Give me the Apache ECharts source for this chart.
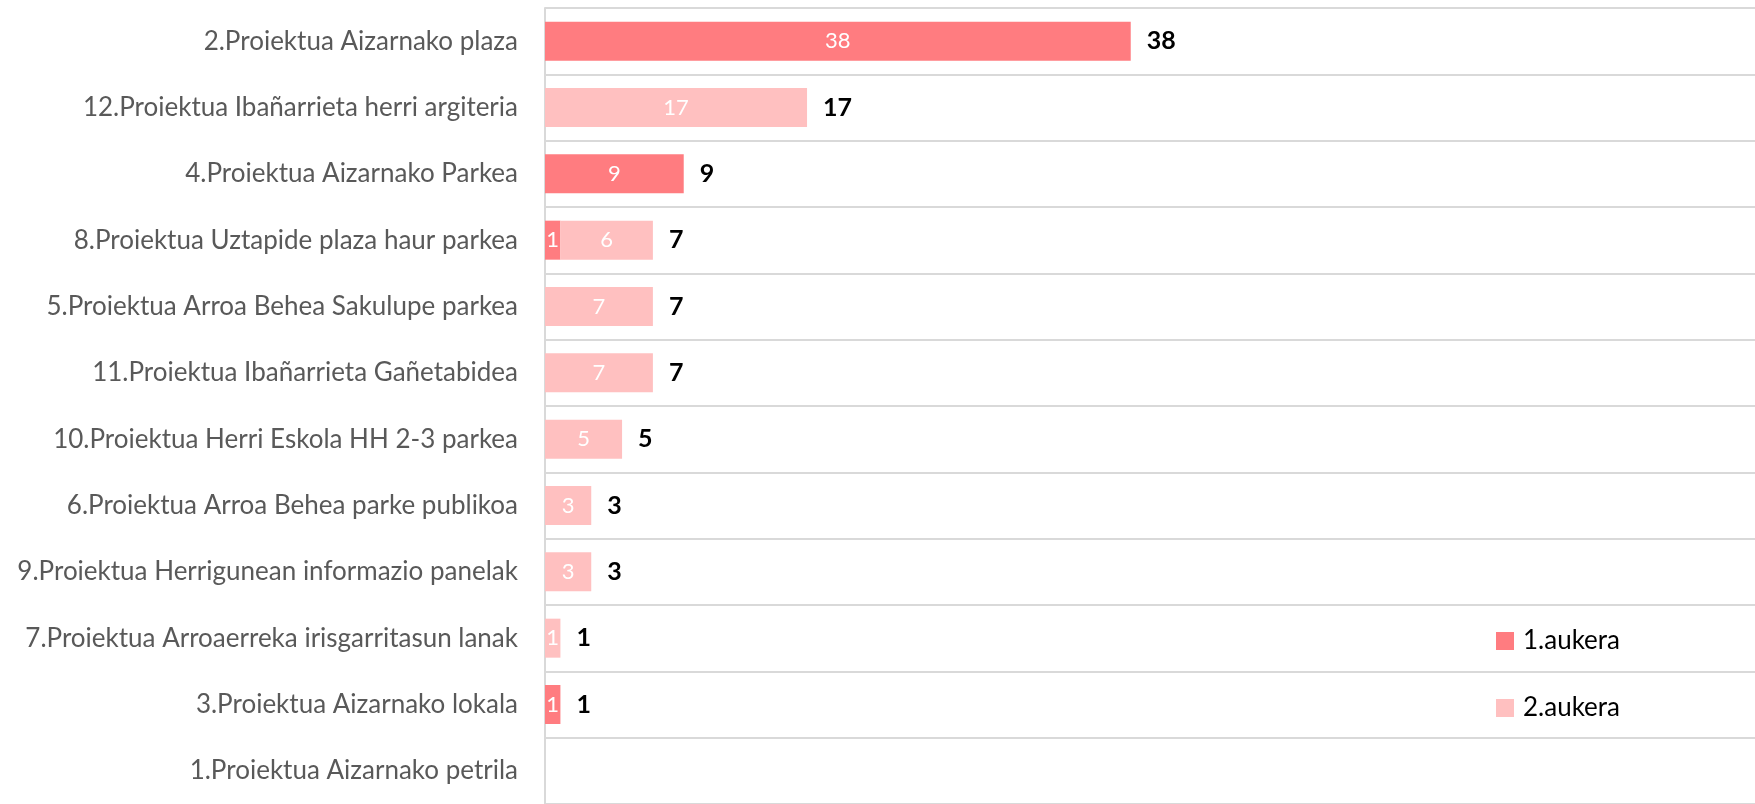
<!DOCTYPE html>
<html><head><meta charset="utf-8">
<script src="https://cdn.jsdelivr.net/npm/echarts@6/dist/echarts.min.js"></script>
<style>html,body{margin:0;padding:0;background:#fff}#c{width:1755px;height:804px}</style>
</head><body><div id="c"></div>
<script>
const categories = [
  '2.Proiektua Aizarnako plaza',
  '12.Proiektua Ibañarrieta herri argiteria',
  '4.Proiektua Aizarnako Parkea',
  '8.Proiektua Uztapide plaza haur parkea',
  '5.Proiektua Arroa Behea Sakulupe parkea',
  '11.Proiektua Ibañarrieta Gañetabidea',
  '10.Proiektua Herri Eskola HH 2-3 parkea',
  '6.Proiektua Arroa Behea parke publikoa',
  '9.Proiektua Herrigunean informazio panelak',
  '7.Proiektua Arroaerreka irisgarritasun lanak',
  '3.Proiektua Aizarnako lokala',
  '1.Proiektua Aizarnako petrila'
];
const aukera1 = [38, 0, 9, 1, 0, 0, 0, 0, 0, 0, 1, 0];
const aukera2 = [0, 17, 0, 6, 7, 7, 5, 3, 3, 1, 0, 0];
const totals = categories.map((c, i) => aukera1[i] + aukera2[i]);

const FONT = 'Lato';
const chart = echarts.init(document.getElementById('c'));
const inner = {
  show: true, position: 'inside', color: '#fff', fontFamily: FONT, fontSize: 22,
  formatter: p => p.value ? String(p.value) : ''
};
chart.setOption({
  animation: false,
  textStyle: { fontFamily: FONT },
  grid: { left: 545, right: 0, top: 8, height: 799, containLabel: false },
  xAxis: { type: 'value', min: 0, max: 78.5, show: false },
  yAxis: {
    type: 'category', data: categories, inverse: true,
    axisLine: { show: true, lineStyle: { color: '#d9d9d9', width: 2 } },
    axisTick: { show: false },
    splitLine: { show: true, lineStyle: { color: '#d9d9d9', width: 2 } },
    axisLabel: { color: '#595959', fontSize: 26, fontFamily: FONT, margin: 27 }
  },
  legend: {
    data: ['1.aukera', '2.aukera'], orient: 'vertical', left: 1491, top: 623,
    itemWidth: 18, itemHeight: 18, itemGap: 41, icon: 'rect',
    textStyle: { color: '#000', fontSize: 26, fontFamily: FONT, lineHeight: 26, padding: [0, 0, 0, 4] }
  },
  series: [
    { name: '1.aukera', type: 'bar', stack: 's', data: aukera1, barWidth: 39,
      itemStyle: { color: '#FF7C80' }, label: inner },
    { name: '2.aukera', type: 'bar', stack: 's', data: aukera2, barWidth: 39,
      itemStyle: { color: '#FFC0C0' }, label: inner },
    { name: 'total', type: 'bar', stack: 's', data: totals.map(() => 0), barWidth: 39,
      itemStyle: { color: 'transparent' }, silent: true,
      label: { show: true, position: 'right', distance: 16, color: '#000', fontWeight: 'bold',
        fontSize: 25, fontFamily: FONT,
        formatter: p => totals[p.dataIndex] ? String(totals[p.dataIndex]) : '' } }
  ]
});
</script></body></html>
